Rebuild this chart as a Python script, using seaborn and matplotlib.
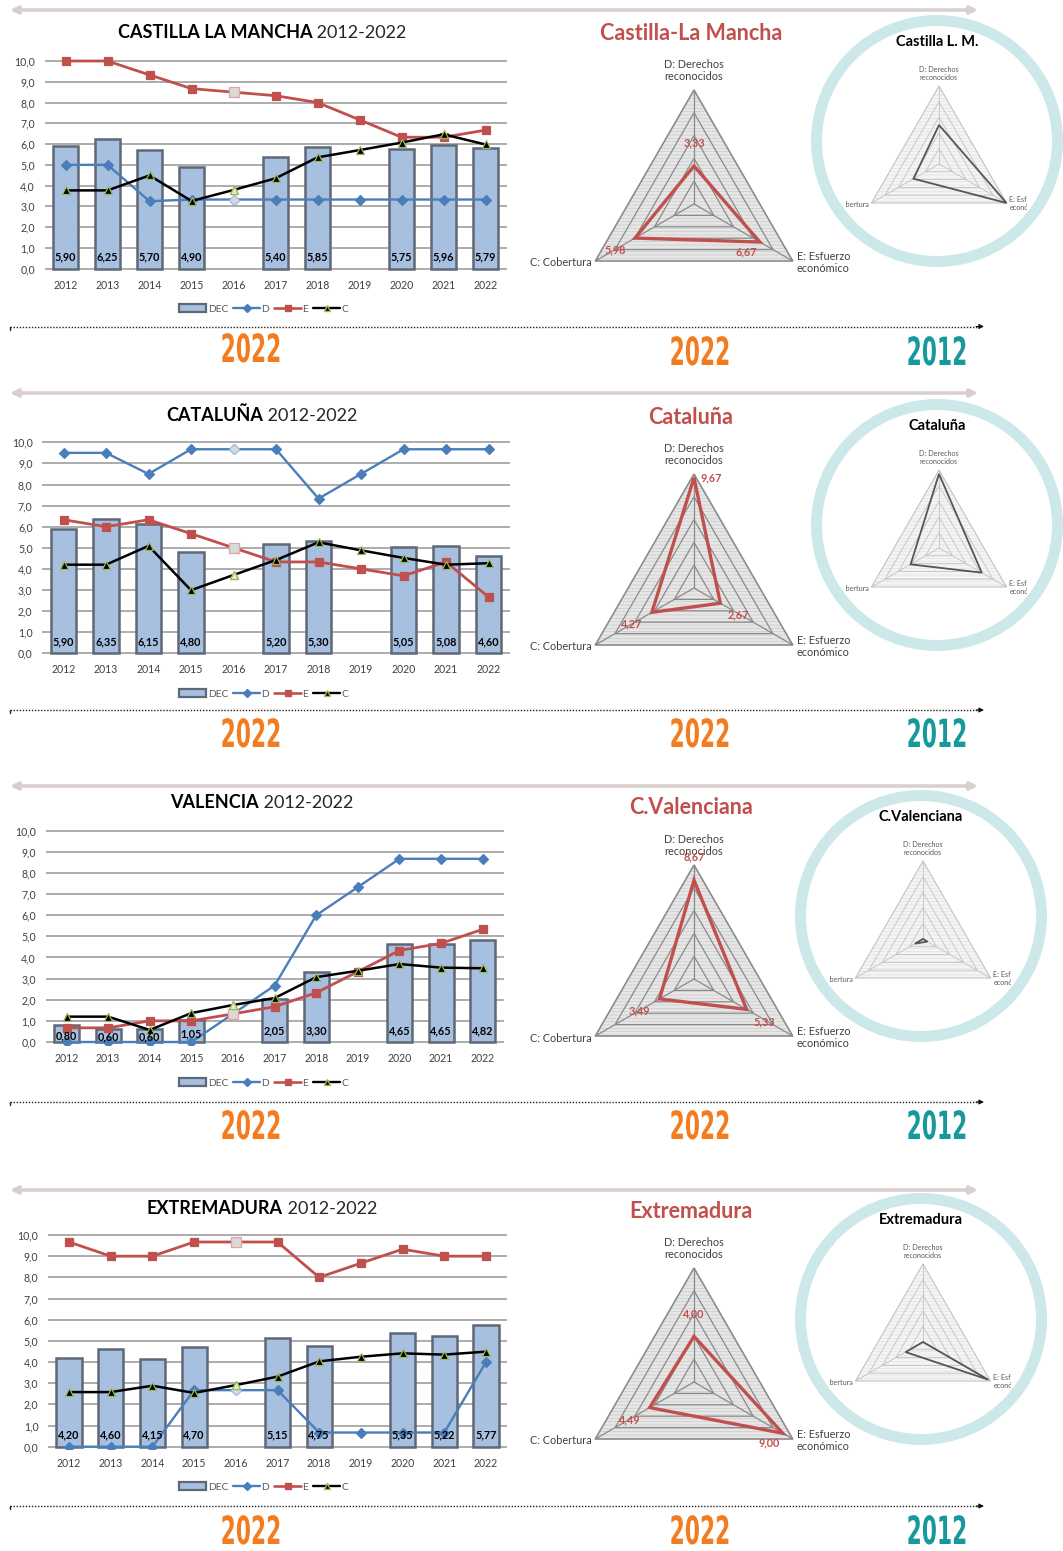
import math
import numpy as np
import pandas as pd
import matplotlib
matplotlib.use("Agg")
import matplotlib.pyplot as plt
import seaborn as sns
from matplotlib.patches import Polygon, Circle, Patch
from matplotlib.lines import Line2D
from matplotlib.patheffects import AbstractPathEffect
from matplotlib.transforms import Affine2D

sns.set_theme(style="white")
plt.rcParams["font.family"] = ["Lato", "DejaVu Sans"]
plt.rcParams["hatch.linewidth"] = 0.45

nan = np.nan

# ---------------------------------------------------------------- data
years = [str(y) for y in range(2012, 2023)]
ytick_labels = [f"{v},0" for v in range(0, 11)]
period = "2012-2022"
year_new, year_old = "2022", "2012"

region_names = ["CASTILLA LA MANCHA", "CATALUÑA", "VALENCIA", "EXTREMADURA"]
radar_titles = ["Castilla-La Mancha", "Cataluña", "C.Valenciana", "Extremadura"]
circle_titles = ["Castilla L. M.", "Cataluña", "C.Valenciana", "Extremadura"]
axis_labels = {"D": "D: Derechos\nreconocidos", "E": "E: Esfuerzo\neconómico", "C": "C: Cobertura"}

dec_clm = [5.90, 6.25, 5.70, 4.90, nan, 5.40, 5.85, nan, 5.75, 5.96, 5.79]
d_clm = [5.00, 5.00, 3.25, 3.33, 3.33, 3.33, 3.33, 3.33, 3.33, 3.33, 3.33]
e_clm = [10.00, 10.00, 9.33, 8.67, 8.50, 8.33, 8.00, 7.17, 6.33, 6.33, 6.67]
c_clm = [3.77, 3.77, 4.49, 3.26, 3.79, 4.35, 5.36, 5.71, 6.07, 6.47, 5.98]

dec_cat = [5.90, 6.35, 6.15, 4.80, nan, 5.20, 5.30, nan, 5.05, 5.08, 4.60]
d_cat = [9.50, 9.50, 8.50, 9.67, 9.67, 9.67, 7.33, 8.50, 9.67, 9.67, 9.67]
e_cat = [6.33, 6.00, 6.33, 5.67, 5.00, 4.33, 4.33, 4.00, 3.67, 4.33, 2.67]
c_cat = [4.20, 4.20, 5.09, 2.99, 3.71, 4.42, 5.26, 4.88, 4.52, 4.20, 4.27]

dec_val = [0.80, 0.60, 0.60, 1.05, nan, 2.05, 3.30, nan, 4.65, 4.65, 4.82]
d_val = [0.00, 0.00, 0.00, 0.00, 1.33, 2.67, 6.00, 7.33, 8.67, 8.67, 8.67]
e_val = [0.67, 0.67, 1.00, 1.00, 1.33, 1.67, 2.33, 3.33, 4.33, 4.67, 5.33]
c_val = [1.20, 1.20, 0.57, 1.37, 1.75, 2.08, 3.07, 3.37, 3.69, 3.52, 3.49]

dec_ext = [4.20, 4.60, 4.15, 4.70, nan, 5.15, 4.75, nan, 5.35, 5.22, 5.77]
d_ext = [0.00, 0.00, 0.00, 2.67, 2.67, 2.67, 0.67, 0.67, 0.67, 0.67, 4.00]
e_ext = [9.67, 9.00, 9.00, 9.67, 9.67, 9.67, 8.00, 8.67, 9.33, 9.00, 9.00]
c_ext = [2.58, 2.58, 2.88, 2.54, 2.91, 3.31, 4.03, 4.25, 4.41, 4.35, 4.49]

series = [
    (dec_clm, d_clm, e_clm, c_clm),
    (dec_cat, d_cat, e_cat, c_cat),
    (dec_val, d_val, e_val, c_val),
    (dec_ext, d_ext, e_ext, c_ext),
]

# ---------------------------------------------------------------- style
BAR, BAR_EDGE = "#a8c0df", "#5e6876"
BLUE, RED, GREEN = "#4a7ebb", "#c0504d", "#9bbb59"
ORANGE, TEAL = "#f47c20", "#17999b"
ARROW = "#dacfcf"

W, H = 1063, 1551
fig = plt.figure(figsize=(W / 100, H / 100), dpi=100)
PT = 0.72  # points per pixel at 100 dpi


class Condensed(AbstractPathEffect):
    """Squeeze glyph outlines horizontally around a fixed x (in pixels)."""

    def __init__(self, x_px, factor):
        super().__init__()
        self.x_px = x_px
        self.factor = factor

    def draw_path(self, renderer, gc, tpath, affine, rgbFace=None):
        squeeze = (Affine2D().translate(-self.x_px, 0)
                   .scale(self.factor, 1).translate(self.x_px, 0))
        renderer.draw_path(gc, tpath, affine + squeeze, rgbFace)


def box(l, t, r, b):
    return fig.add_axes([l / W, 1 - b / H, (r - l) / W, (b - t) / H])


def comma(v):
    return f"{v:.2f}".replace(".", ",")


# full-page layer for the separators
bg = box(0, 0, W, H)
bg.set_xlim(0, W)
bg.set_ylim(H, 0)
bg.axis("off")

# per-panel placement
chart_geo = [(65.5, 485.5, 268.7, 61.0), (63.5, 488.5, 653.3, 442.3),
             (66.5, 482.7, 1042.0, 830.7), (69.0, 486.0, 1446.7, 1235.0)]
title_y = [33, 415, 803, 1208]
legend_y = [309, 694, 1083, 1487]
arrow_y = [10, 393, 786, 1190]
dotted_y = [326.5, 710, 1102, 1506]
left_year_y = [351, 736, 1128, 1533]
right_year_y = [354, 736, 1128, 1533]
side_dy = [0, 384, 775, 1178]
small_dx = [0, 0, -16, -16]

line_styles = {
    "D": dict(color=BLUE, marker="D", ms=4.6, lw=1.7, mec=BLUE, light=("#d9d9d9", "#a9c4e4")),
    "E": dict(color=RED, marker="s", ms=6.2, lw=2.0, mec=RED, light=("#d9d9d9", "#e3a3a2")),
    "C": dict(color="black", marker="^", ms=5.6, lw=1.8, mec=GREEN, light=("#e2ead0", GREEN)),
}

title_pairs = []


def line_chart(i):
    dec, d, e, c = series[i]
    x0, x1, yz, yt = chart_geo[i]
    step = (x1 - x0) / 10
    unit = (yz - yt) / 10
    ax = box(x0 - step / 2, yz - 10.45 * unit, x1 + step / 2, yz + 0.12 * unit)
    df = pd.DataFrame({"year": years, "DEC": dec, "D": d, "E": e, "C": c})
    sns.barplot(data=df.dropna(subset=["DEC"]), x="year", y="DEC", order=years,
                color=BAR, edgecolor=BAR_EDGE, linewidth=1.8, width=0.6,
                saturation=1, ax=ax)
    k16 = years.index("2016")
    for col, st in line_styles.items():
        sns.pointplot(data=df, x="year", y=col, order=years, color=st["color"],
                      markers=st["marker"], markersize=st["ms"], linewidth=st["lw"],
                      markeredgecolor=st["mec"], markeredgewidth=0.9,
                      errorbar=None, ax=ax)
        mfc, mec = st["light"]
        ax.plot([k16], [df[col].iloc[k16]], ls="none", marker=st["marker"],
                ms=st["ms"] + 0.4, mfc=mfc, mec=mec, mew=0.9, zorder=6)
    for k, v in enumerate(dec):
        if not np.isnan(v):
            ax.text(k, min(0.55, v * 0.38), comma(v), ha="center", va="center",
                    fontsize=7.8, weight="bold", color="black", zorder=7)
    ax.set_xlim(-0.5, 10.5)
    ax.set_ylim(-0.12, 10.45)
    ax.set_yticks(range(11))
    ax.set_yticklabels(ytick_labels)
    ax.set_xlabel("")
    ax.set_ylabel("")
    ax.yaxis.grid(True, color="#a6a6a6", linewidth=1.3)
    ax.xaxis.grid(False)
    ax.set_axisbelow(True)
    for s in ax.spines.values():
        s.set_visible(False)
    ax.tick_params(length=0, labelsize=7.6, labelcolor="#404040")
    ax.tick_params(axis="y", pad=7)
    ax.tick_params(axis="x", pad=6)
    ax.patch.set_alpha(0)

    t1 = fig.text(0, 1 - title_y[i] / H, region_names[i], fontsize=13,
                  weight="bold", ha="left", va="center", color="black")
    t2 = ax.annotate(" " + period, xy=(1, 0), xycoords=t1, ha="left",
                     va="bottom", fontsize=13, color="#262626",
                     annotation_clip=False)
    title_pairs.append((t1, t2))

    handles = [
        Patch(facecolor=BAR, edgecolor=BAR_EDGE, linewidth=1.6, label="DEC"),
        Line2D([], [], color=BLUE, marker="D", ms=3.8, lw=1.7, label="D"),
        Line2D([], [], color=RED, marker="s", ms=4.8, lw=1.9, label="E"),
        Line2D([], [], color="black", marker="^", ms=4.6, mec=GREEN, lw=1.7, label="C"),
    ]
    fig.legend(handles=handles, loc="center", bbox_to_anchor=(264 / W, 1 - legend_y[i] / H),
               ncol=4, frameon=False, fontsize=7.4, handlelength=2.6,
               handletextpad=0.15, columnspacing=0.5, labelcolor="#595959")


ANG = {"D": 90.0, "E": -30.0, "C": 210.0}


def vertex(v, key):
    a = math.radians(ANG[key])
    return v * math.cos(a), v * math.sin(a)


def radar(l, t, r, b, cx, cy, R, vals, big):
    s = R / 10
    ax = box(l, t, r, b)
    ax.set_xlim((l - cx) / s, (r - cx) / s)
    ax.set_ylim((cy - b) / s, (cy - t) / s)
    ax.axis("off")
    keys = ["D", "E", "C"]
    if big:
        fill, hatch_col, ring_col, ring_lw = "#e6e6e6", "#c8c8c8", "#8a8a8a", 0.9
    else:
        fill, hatch_col, ring_col, ring_lw = "#f4f4f4", "#e0e0e0", "#c2c2c2", 0.6
    ax.add_patch(Polygon([vertex(10, k) for k in keys], closed=True, facecolor=fill,
                         edgecolor=hatch_col, hatch="-----", lw=0, zorder=1))
    for ring in (2, 4, 6, 8, 10):
        ax.add_patch(Polygon([vertex(ring, k) for k in keys], closed=True, fill=False,
                             edgecolor=ring_col, lw=ring_lw * (1.3 if ring == 10 else 1), zorder=2))
    for k in keys:
        x, y = vertex(10, k)
        ax.plot([0, x], [0, y], color=ring_col, lw=ring_lw, zorder=2)
    pts = [vertex(vals[k], k) for k in keys]
    ax.add_patch(Polygon(pts, closed=True, fill=False,
                         edgecolor=RED if big else "#555555",
                         lw=2.4 if big else 1.3, joinstyle="miter", zorder=4))

    fs = 7.8 if big else 5.2
    col = "#404040" if big else "#5a5a5a"
    clip = not big
    k = 1.0 if big else 0.68
    ax.annotate(axis_labels["D"], xy=vertex(10, "D"), xytext=(0, 8 * k * PT),
                textcoords="offset points", ha="center", va="bottom", fontsize=fs,
                color=col, linespacing=1.15, clip_on=clip)
    ax.annotate(axis_labels["C"], xy=vertex(10, "C"), xytext=(-4 * k * PT, -2 * k * PT),
                textcoords="offset points", ha="right", va="center", fontsize=fs,
                color=col, clip_on=clip)
    ax.annotate(axis_labels["E"], xy=vertex(10, "E"), xytext=(4 * k * PT, 10 * k * PT),
                textcoords="offset points", ha="left", va="top", fontsize=fs,
                color=col, linespacing=1.15, clip_on=clip)

    if big:
        offsets = {
            "D": (17, 0) if vals["D"] > 9 else (0, -23),
            "E": (-14, 10) if vals["E"] > 6 else (18, 12),
            "C": (-20, 12),
        }
        for key in keys:
            dx, dy = offsets[key]
            ax.annotate(comma(vals[key]), xy=vertex(vals[key], key),
                        xytext=(dx * PT, -dy * PT), textcoords="offset points",
                        ha="center", va="center", fontsize=7.8, weight="bold",
                        color=RED, zorder=6)


def year_caption(x, y, label, color):
    fig.text(x / W, 1 - y / H, label, fontsize=28, color=color, ha="center",
             va="center", family="DejaVu Sans", weight="bold",
             path_effects=[Condensed(x, 0.56)])


for i in range(4):
    line_chart(i)
    dec, d, e, c = series[i]
    dy = side_dy[i]
    sx = small_dx[i]

    # 2022 radar
    new_vals = {"D": d[-1], "E": e[-1], "C": c[-1]}
    cx, cy = 694, 204 + dy
    radar(cx - 135, cy - 130, cx + 135, cy + 80, cx, cy, 114, new_vals, True)
    fig.text(691 / W, 1 - (33 + dy) / H, radar_titles[i], fontsize=15.5,
             weight="bold", color=RED, ha="center", va="center")

    # 2012 radar inside the ring
    old_vals = {"D": d[0], "E": e[0], "C": c[0]}
    scx, scy = 939 + sx, 164 + dy
    radar(846 + sx, scy - 112, 1027 + sx, scy + 70, scx, scy, 78, old_vals, False)
    fig.text((937 + sx) / W, 1 - (42 + dy) / H, circle_titles[i], fontsize=10.5,
             weight="bold", color="black", ha="center", va="center")
    ring = Circle(((937 + sx) / 100, (H - (141 + dy)) / 100), radius=120.5 / 100,
                  transform=fig.dpi_scale_trans, fill=False, edgecolor="#cde8e9",
                  lw=11 * PT, zorder=3)
    fig.add_artist(ring)

    # separators
    ya = arrow_y[i]
    bg.annotate("", xy=(978, ya), xytext=(10, ya),
                arrowprops=dict(arrowstyle="<|-|>", color=ARROW, lw=2.6,
                                mutation_scale=11, shrinkA=0, shrinkB=0))
    yd = dotted_y[i]
    bg.plot([10, 978], [yd, yd], color="#222222", lw=1.0, ls=(0, (1, 1.2)))
    bg.plot([10, 10], [yd, yd + 3], color="#222222", lw=1.0)
    bg.annotate("", xy=(984, yd), xytext=(976, yd),
                arrowprops=dict(arrowstyle="-|>", color="#111111", lw=0.8,
                                mutation_scale=7, shrinkA=0, shrinkB=0))

    # year captions
    year_caption(251, left_year_y[i], year_new, ORANGE)
    year_caption(700, right_year_y[i], year_new, ORANGE)
    year_caption(937, right_year_y[i], year_old, TEAL)

# center each two-part chart title on its chart
renderer = fig.canvas.get_renderer()
for t1, t2 in title_pairs:
    w = t1.get_window_extent(renderer).width + t2.get_window_extent(renderer).width
    t1.set_x((262 - w / 2) / W)

fig.savefig("out.png", dpi=100, facecolor="white")
